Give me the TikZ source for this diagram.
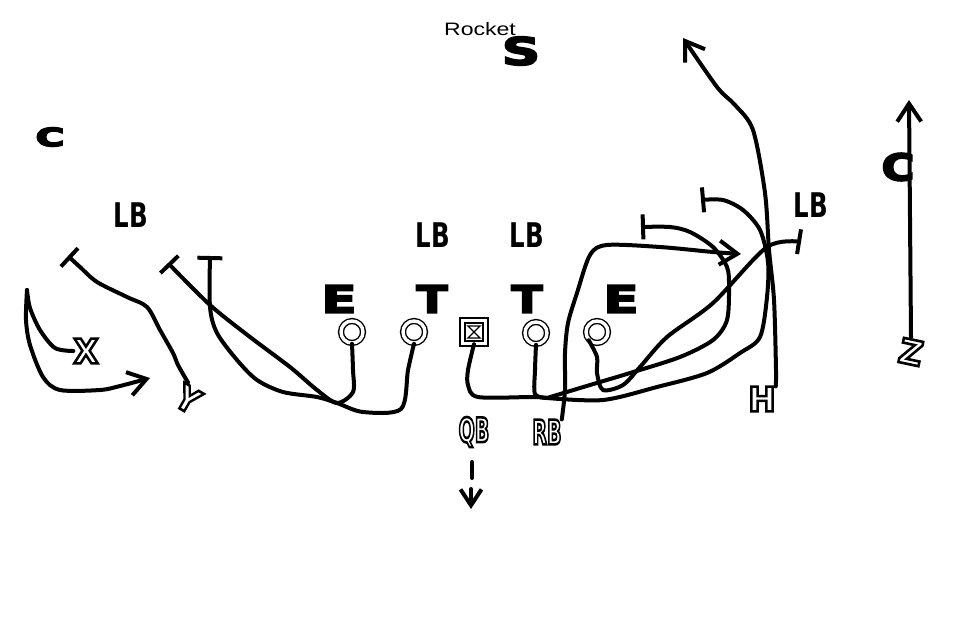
\documentclass[tikz,border=0pt]{standalone}
\usepackage{fontspec}
\usepackage{graphicx}
\usetikzlibrary{arrows.meta}
\newfontfamily\heavyfont{DejaVu Sans}
\newfontfamily\titlefont{Liberation Sans}
\newcommand{\wide}[2]{\scalebox{#1}[1]{#2}}
\newcommand{\heavier}[2]{\scalebox{#1}[1]{\special{pdf:literal direct 2 Tr 1.6 w 0 G}#2\special{pdf:literal direct 0 Tr}}}
\newcommand{\hollow}[2]{\scalebox{#1}[1]{\special{pdf:literal direct 2 Tr 2.6 w 0 G}#2\special{pdf:literal direct 0 Tr}}}
\tikzset{
  route/.style={line width=4pt,line cap=round,line join=round},
  blockend/.style={-{Bar[width=25pt]}},
  runend/.style={-{Straight Barb[length=18pt,width=24pt]}},
  bigletter/.style={font=\heavyfont\bfseries\fontsize{38}{38}\selectfont,inner sep=0pt},
  lbletter/.style={font=\heavyfont\bfseries\fontsize{34}{34}\selectfont,inner sep=0pt},
  tagletter/.style={text=white,font=\heavyfont\bfseries\fontsize{34}{34}\selectfont,inner sep=0pt},
  lineman/.style={circle,draw,fill=white,double=white,line width=1.4pt,double distance=3.4pt,minimum size=22pt,inner sep=0pt},
  snapper/.style={rectangle,draw,fill=white,double=white,line width=1.4pt,double distance=3.4pt,minimum size=23pt,inner sep=0pt}
}
\begin{document}
\begin{tikzpicture}[x=1pt,y=-1pt]
  \useasboundingbox[fill=white] (0,0) rectangle (960,640);
  \node[font=\titlefont\fontsize{18}{18}\selectfont,inner sep=0pt] (title) at (480,29) {\wide{1.28}{Rocket}};
  % defence
  \node[bigletter] (safety) at (521,51) {\heavier{1.4}{S}};
  \node[font=\heavyfont\bfseries\fontsize{25}{25}\selectfont,inner sep=0pt] (cornerL) at (50,137) {\heavier{1.55}{C}};
  \node[font=\heavyfont\bfseries\fontsize{37}{37}\selectfont,inner sep=0pt] (cornerR) at (898,167) {\heavier{1.22}{C}};
  \node[lbletter] (lbA) at (131,215) {\wide{.72}{LB}};
  \node[lbletter] (lbB) at (433,235) {\wide{.72}{LB}};
  \node[lbletter] (lbC) at (527,235) {\wide{.72}{LB}};
  \node[lbletter] (lbD) at (811,205) {\wide{.72}{LB}};
  \node[bigletter] (dendL) at (339,299) {\heavier{1.35}{E}};
  \node[bigletter] (dtackL) at (432,299) {\heavier{1.2}{T}};
  \node[bigletter] (dtackR) at (527,299) {\heavier{1.2}{T}};
  \node[bigletter] (dendR) at (621,299) {\heavier{1.35}{E}};
  % offence
  \node[lineman] (endL) at (352,332) {};
  \node[lineman] (tackleL) at (414,332) {};
  \node[snapper] (snap) at (474,332) {};
  \draw[line width=1.3pt] ([shift={(-6,-6)}]snap.center) -- ([shift={(6,-6)}]snap.center)
    -- ([shift={(-6,6)}]snap.center) -- ([shift={(6,6)}]snap.center) -- cycle;
  \node[lineman] (tackleR) at (536,333) {};
  \node[lineman] (endR) at (597,332) {};
  \node[tagletter] (qb) at (474,432) {\hollow{.56}{QB}};
  \node[tagletter] (rb) at (547,432) {\hollow{.56}{RB}};
  \node[tagletter] (hb) at (762,399) {\hollow{.95}{H}};
  \node[tagletter] (zw) at (911,352) {\rotatebox{-12}{\hollow{.95}{Z}}};
  \node[tagletter] (xw) at (86,351) {\hollow{.95}{X}};
  \node[tagletter] (yw) at (188,399) {\rotatebox{-30}{\hollow{.9}{Y}}};
  \coordinate (xturn) at (27,290);
  \coordinate (mrg) at (547,398);
  % routes
  \draw[route] plot[smooth] coordinates {(xw.west) (55,348) (40,330) (30,308) (xturn)};
  \draw[route,runend] plot[smooth] coordinates
    {(xturn) (26,320) (30,345) (43,377) (60,390) (100,390) (120,386) (150,378)};
  \draw[route,blockend] plot[smooth] coordinates
    {(yw.north) (178,365) (173,353) (160,330) (147,307) (127,297) (97,282) (80,267) (68,256)};
  \draw[route,blockend] plot[smooth,tension=.5] coordinates
    {(endL.south) (353,370) (353,392) (337,403) (317,390) (290,367) (250,337) (210,305) (168,263)};
  \draw[route,blockend] plot[smooth,tension=.5] coordinates
    {(tackleL.south) (408,370) (401,409) (363,412) (337,403) (317,397) (283,392) (257,380)
     (237,360) (217,333) (210,307) (210,256)};
  \draw[route] plot[smooth,tension=.5] coordinates
    {(snap.south) (468,370) (468,385) (478,397) (533,397) (mrg)};
  \draw[route] plot[smooth,tension=.5] coordinates {(tackleR.south) (535,370) (535,394) (mrg)};
  \draw[route,blockend] plot[smooth] coordinates
    {(mrg) (603,400) (657,387) (707,373) (740,353) (760,337) (767,297) (768,262) (760,230)
     (743,210) (723,200) (701,200)};
  \draw[route,blockend] plot[smooth] coordinates
    {(mrg) (590,385) (630,373) (680,357) (713,340) (727,320) (729,287) (727,267) (713,247)
     (690,232) (670,227) (641,227)};
  \draw[route,blockend] plot[smooth,tension=.5] coordinates
    {(endR.south west) (597,357) (597,373) (603,390) (623,385) (640,367) (667,337) (713,303)
     (767,247) (801,242)};
  \draw[route,runend] plot[smooth] coordinates
    {(hb.north east) (776,370) (774,300) (769,250) (765,193) (753,130) (735,105) (717,87) (683,38)};
  \draw[route,runend] plot[smooth,tension=.5] coordinates
    {(rb.north east) (565,390) (565,353) (568,323) (577,293) (590,255) (607,245) (660,247)
     (713,252) (741,254)};
  \draw[route,runend] (zw.north) -- (909,100);
  \coordinate (dropA) at (472,462);
  \coordinate (dropB) at (472,478);
  \coordinate (dropC) at (471,489);
  \coordinate (dropD) at (471,509);
  \draw[route] (dropA) -- (dropB);
  \draw[route,-{Straight Barb[length=16pt,width=21pt]}] (dropC) -- (dropD);
\end{tikzpicture}
\end{document}
